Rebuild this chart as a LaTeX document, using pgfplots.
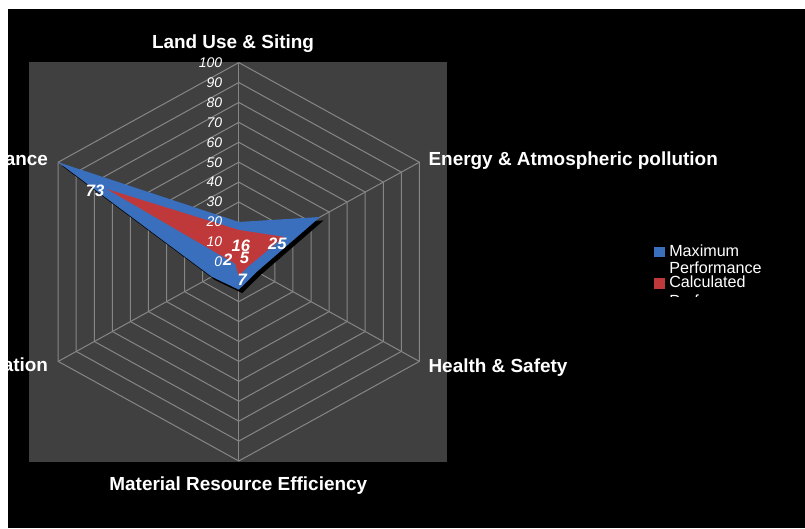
\documentclass[border=0pt]{standalone}
\usepackage{pgfplots}
\pgfplotsset{compat=1.18}
\usepackage{fontspec}
\setmainfont{Liberation Sans}
\definecolor{bggray}{RGB}{64,64,64}
\definecolor{gridgray}{RGB}{134,134,134}
\definecolor{serblue}{RGB}{58,111,190}
\definecolor{serred}{RGB}{192,57,58}
\begin{document}
\begin{tikzpicture}[x=0.75pt,y=0.75pt]
\fill[white] (0,0) rectangle (805,528);
\clip (8,0) rectangle (805,519);
\fill[black] (8,0) rectangle (805,519);
\begin{axis}[at={(21.75pt,49.5pt)}, anchor=south west,
  x=1.564pt, y=1.494pt,
  xmin=-100.6, xmax=99.9, ymin=-100.5, ymax=100.5,
  axis background/.style={fill=bggray},
  axis line style={draw=none},
  xtick=\empty, ytick=\empty, clip=false]
% hexagonal grid rings
\pgfplotsinvokeforeach{10,20,30,40,50,60,70,80,90,100}{
  \addplot[gridgray, line width=0.75pt, line join=round, data cs=polar, mark=none]
    coordinates {(90,#1)(30,#1)(-30,#1)(-90,#1)(-150,#1)(150,#1)(90,#1)};
}
% spokes
\pgfplotsinvokeforeach{90,30,-30,-90,-150,150}{
  \addplot[gridgray, line width=0.75pt, data cs=polar, mark=none]
    coordinates {(#1,0)(#1,100)};
}
% shadow of Maximum Performance
\addplot[fill=black, draw=none, data cs=polar, mark=none, xshift=2.6pt, yshift=-2.6pt]
  coordinates {(90,20)(30,45)(-30,10)(-90,14)(-150,15)(150,100)(90,20)};
% Maximum Performance
\addplot[fill=serblue, draw=none, data cs=polar, mark=none]
  coordinates {(90,20)(30,45)(-30,10)(-90,14)(-150,15)(150,100)(90,20)};
% Calculated Performance
\addplot[fill=serred, draw=none, data cs=polar, mark=none]
  coordinates {(90,16)(30,25)(-30,5)(-90,7)(-150,2)(150,73)(90,16)};
% radial value labels
\addplot[draw=none, mark=none, nodes near coords, point meta=explicit symbolic,
  every node near coord/.append style={anchor=east, inner sep=0pt, text=white,
  font=\itshape\fontsize{10.5}{12}\selectfont}]
  coordinates {(-7.8,0)[0] (-7.8,10)[10] (-7.8,20)[20] (-7.8,30)[30] (-7.8,40)[40]
   (-7.8,50)[50] (-7.8,60)[60] (-7.8,70)[70] (-7.8,80)[80] (-7.8,90)[90] (-7.8,100)[100]};
% data labels of Calculated Performance
\addplot[draw=none, mark=none, nodes near coords, point meta=explicit symbolic,
  every node near coord/.append style={anchor=center, inner sep=0pt, text=white,
  font=\bfseries\itshape\fontsize{12.4}{14}\selectfont}]
  coordinates {(-68.9,35.6)[73] (1.0,7.9)[16] (18.5,9.1)[25] (-5.3,0.9)[2] (2.7,1.8)[5] (1.7,-8.8)[7]};
\end{axis}
% category labels
\begin{scope}[every node/.style={inner sep=0pt, text=white, font=\bfseries\fontsize{14.2}{17}\selectfont}]
\node[anchor=base] at (233,479.5) {Land Use \& Siting};
\node[anchor=base west] at (428.3,362) {Energy \& Atmospheric pollution};
\node[anchor=base west] at (428.3,155.7) {Health \& Safety};
\node[anchor=base] at (238.3,38) {Material Resource Efficiency};
\node[anchor=base east] at (48.3,362) {Economic Performance};
\node[anchor=base east] at (48.3,156.3) {Water Conservation};
\end{scope}
% legend
\fill[serblue] (654.3,270.7) rectangle (665,281.3);
\fill[serred] (654.3,239) rectangle (665,249.7);
\begin{scope}[every node/.style={inner sep=0pt, text=white, font=\fontsize{12.1}{14}\selectfont, anchor=base west}]
\node at (669,271.3) {Maximum};
\node at (669,254) {Performance};
\node at (669,240.7) {Calculated};
\node at (669,221.5) {Performance};
\end{scope}
\fill[black] (645,200) rectangle (805,231.3);
\end{tikzpicture}
\end{document}
